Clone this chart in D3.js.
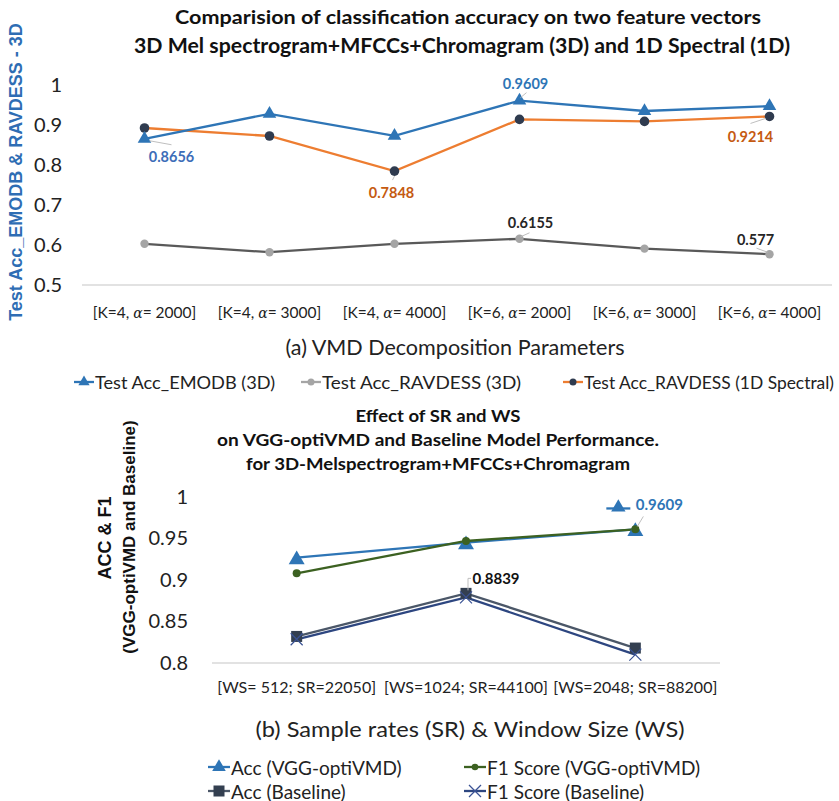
<!DOCTYPE html>
<html><head><meta charset="utf-8">
<script src="https://cdn.jsdelivr.net/npm/d3@7"></script>
<style>body{margin:0;background:#fff} text{font-family:Lato, "Open Sans", sans-serif}</style>
</head><body><svg id="c" width="839" height="801"></svg>
<script>
// ---------- DATA ----------
const catsA = [["K=4", "2000"], ["K=4", "3000"], ["K=4", "4000"], ["K=6", "2000"], ["K=6", "3000"], ["K=6", "4000"]];
const emodb3d = [0.8656, 0.928, 0.873, 0.9609, 0.935, 0.947];
const ravdess3d = [0.603, 0.582, 0.603, 0.6155, 0.591, 0.577];
const ravdess1d = [0.8925, 0.8725, 0.7848, 0.914, 0.909, 0.9214];
const ticksA = [0.5, 0.6, 0.7, 0.8, 0.9, 1];

const catsB = ["[WS= 512; SR=22050]", "[WS=1024; SR=44100]", "[WS=2048; SR=88200]"];
const accVGG = [0.927, 0.945, 0.9609];
const f1VGG = [0.908, 0.947, 0.961];
const accBase = [0.832, 0.8839, 0.818];
const f1Base = [0.8286, 0.879, 0.810];
const ticksB = [0.8, 0.85, 0.9, 0.95, 1];

const svg = d3.select("#c");
const fmt = v => (v === 1 ? "1" : String(+v.toFixed(2)));

// ---------- TOP CHART ----------
const xA = d3.scaleBand().domain(d3.range(catsA.length)).range([82, 832]);
const yA = d3.scaleLinear().domain([0.5, 1]).range([285, 85]);
const cxA = i => xA(i) + xA.bandwidth() / 2;

svg.append("text").attr("x", 468).attr("y", 24).attr("text-anchor", "middle")
  .attr("font-size", 19.5).attr("font-weight", "bold").attr("fill", "#111")
  .attr("textLength", 586).attr("lengthAdjust", "spacingAndGlyphs")
  .text("Comparision of classification accuracy on two feature vectors");
svg.append("text").attr("x", 462).attr("y", 53).attr("text-anchor", "middle")
  .attr("font-size", 20).attr("font-weight", "bold").attr("fill", "#111")
  .attr("textLength", 656).attr("lengthAdjust", "spacingAndGlyphs")
  .text("3D Mel spectrogram+MFCCs+Chromagram (3D) and 1D Spectral (1D)");

svg.append("text").attr("transform", "translate(22,172) rotate(-90)").attr("text-anchor", "middle")
  .style("font-family", "'Liberation Sans', Arial, sans-serif")
  .attr("font-size", 18).attr("font-weight", "bold").attr("fill", "#2E6DB4")
  .text("Test Acc_EMODB & RAVDESS - 3D");

const gA = svg.append("g");
gA.append("line").attr("x1", 82).attr("x2", 832).attr("y1", yA(0.5)).attr("y2", yA(0.5))
  .attr("stroke", "#D9D9D9").attr("stroke-width", 1.3);
const yAxisA = d3.axisLeft(yA).tickValues(ticksA).tickFormat(fmt).tickSize(0).tickPadding(0);
gA.append("g").attr("transform", "translate(62,0)").call(yAxisA)
  .call(g => g.select(".domain").remove())
  .selectAll("text").attr("font-size", 20).attr("fill", "#222").style("font-family", "Lato");

const xlabA = gA.selectAll(".xl").data(catsA).enter().append("text")
  .attr("x", (d, i) => cxA(i)).attr("y", 318).attr("text-anchor", "middle")
  .attr("font-size", 15.5).attr("fill", "#222");
xlabA.append("tspan").text(d => "[" + d[0] + ", ");
xlabA.append("tspan").attr("font-style", "italic").style("font-family", "'DejaVu Serif', serif").attr("font-size", 14).text("\u03B1");
xlabA.append("tspan").text(d => "= " + d[1] + "]");

svg.append("text").attr("x", 455).attr("y", 355).attr("text-anchor", "middle")
  .attr("font-size", 21).attr("fill", "#222")
  .attr("textLength", 339).attr("lengthAdjust", "spacingAndGlyphs")
  .text("(a) VMD Decomposition Parameters");

const lineA = d3.line().x((d, i) => cxA(i)).y(d => yA(d));
const tri = d3.symbol().type(d3.symbolTriangle);

gA.append("path").datum(ravdess3d).attr("d", lineA).attr("fill", "none").attr("stroke", "#595959").attr("stroke-width", 2.3);
gA.append("path").datum(ravdess1d).attr("d", lineA).attr("fill", "none").attr("stroke", "#ED7D31").attr("stroke-width", 2.3);
gA.append("path").datum(emodb3d).attr("d", lineA).attr("fill", "none").attr("stroke", "#2E75B6").attr("stroke-width", 2.3);

gA.selectAll(".m2").data(ravdess3d).enter().append("circle")
  .attr("cx", (d, i) => cxA(i)).attr("cy", d => yA(d)).attr("r", 4.2).attr("fill", "#A5A5A5");
gA.selectAll(".m3").data(ravdess1d).enter().append("circle")
  .attr("cx", (d, i) => cxA(i)).attr("cy", d => yA(d)).attr("r", 4.8).attr("fill", "#2F3B4F");
gA.selectAll(".m1").data(emodb3d).enter().append("path")
  .attr("d", tri.size(80)).attr("transform", (d, i) => `translate(${cxA(i)},${yA(d)})`).attr("fill", "#2E75B6");

// data labels (top)
function leader(g, x1, y1, x2, y2) {
  g.append("line").attr("x1", x1).attr("y1", y1).attr("x2", x2).attr("y2", y2)
    .attr("stroke", "#BFBFBF").attr("stroke-width", 1);
}
function dlabel(g, x, y, txt, col, size) {
  g.append("text").attr("x", x).attr("y", y).attr("text-anchor", "middle").attr("dominant-baseline", "central")
    .attr("font-size", size || 14.5).attr("font-weight", "bold").attr("fill", col).text(txt);
}
{
  const x0 = cxA(0), y0 = yA(emodb3d[0]);
  leader(gA, x0 + 5, y0 + 2, x0 + 27, y0 + 6);
  dlabel(gA, x0 + 27, y0 + 18, emodb3d[0].toFixed(4), "#3D6DB8");
  const x2 = cxA(2), y2 = yA(ravdess1d[2]);
  leader(gA, x2, y2 + 5, x2 - 2, y2 + 9);
  dlabel(gA, x2 - 3, y2 + 21, ravdess1d[2].toFixed(4), "#C55A11");
  const x3 = cxA(3), y3 = yA(emodb3d[3]);
  leader(gA, x3 + 1, y3 - 3, x3 + 7, y3 - 8);
  dlabel(gA, x3 + 6, y3 - 17, emodb3d[3].toFixed(4), "#2E75B6");
  const y3b = yA(ravdess3d[3]);
  leader(gA, x3 + 1, y3b - 2, x3 + 10, y3b - 6);
  dlabel(gA, x3 + 11, y3b - 16, ravdess3d[3].toFixed(4), "#262626");
  const x5 = cxA(5), y5 = yA(ravdess3d[5]);
  leader(gA, x5 - 2, y5 - 2, x5 - 13, y5 - 6);
  dlabel(gA, x5 - 14, y5 - 15, String(ravdess3d[5]), "#262626");
  const y5b = yA(ravdess1d[5]);
  leader(gA, x5 - 4, y5b + 2, x5 - 19, y5b + 7);
  dlabel(gA, x5 - 19, y5b + 20, ravdess1d[5].toFixed(4), "#C55A11");
}

// legend top
const legA = [
  {t: "Test Acc_EMODB (3D)", line: "#2E75B6", m: "tri", mc: "#2E75B6", x: 74, w: 180},
  {t: "Test Acc_RAVDESS (3D)", line: "#A5A5A5", m: "dot", mc: "#A5A5A5", x: 301, w: 199},
  {t: "Test Acc_RAVDESS (1D Spectral)", line: "#ED7D31", m: "dot", mc: "#2F3B4F", x: 563, w: 250}
];
const lgA = svg.selectAll(".lgA").data(legA).enter().append("g").attr("transform", d => `translate(${d.x},382)`);
lgA.append("line").attr("x1", 0).attr("x2", 20).attr("stroke", d => d.line).attr("stroke-width", 2.3);
lgA.filter(d => d.m === "tri").append("path").attr("d", tri.size(55)).attr("transform", "translate(10,0)").attr("fill", d => d.mc);
lgA.filter(d => d.m === "dot").append("circle").attr("cx", 10).attr("r", 3.5).attr("fill", d => d.mc);
lgA.append("text").attr("x", 21).attr("dominant-baseline", "central").attr("font-size", 17.5).attr("fill", "#222")
  .attr("textLength", d => d.w).attr("lengthAdjust", "spacingAndGlyphs").text(d => d.t);

// ---------- BOTTOM CHART ----------
const xB = d3.scaleBand().domain(d3.range(catsB.length)).range([212, 720]);
const yB = d3.scaleLinear().domain([0.8, 1]).range([663, 497]);
const cxB = i => xB(i) + xB.bandwidth() / 2;

const tB = ["Effect of SR and WS", "on VGG-optiVMD and Baseline Model Performance.", "for 3D-Melspectrogram+MFCCs+Chromagram"];
const tBw = [165, 442, 384];
svg.selectAll(".tB").data(tB).enter().append("text")
  .attr("x", 438).attr("y", (d, i) => 422 + i * 24).attr("text-anchor", "middle")
  .attr("font-size", 17.5).attr("font-weight", "bold").attr("fill", "#111")
  .attr("textLength", (d, i) => tBw[i]).attr("lengthAdjust", "spacingAndGlyphs").text(d => d);

svg.append("text").attr("transform", "translate(111,538) rotate(-90)").attr("text-anchor", "middle")
  .style("font-family", "'Liberation Sans', Arial, sans-serif")
  .attr("font-size", 18).attr("font-weight", "bold").attr("fill", "#111").text("ACC & F1");
svg.append("text").attr("transform", "translate(135,537) rotate(-90)").attr("text-anchor", "middle")
  .style("font-family", "'Liberation Sans', Arial, sans-serif")
  .attr("font-size", 17).attr("font-weight", "bold").attr("fill", "#111").text("(VGG-optiVMD and Baseline)");

const gB = svg.append("g");
gB.append("line").attr("x1", 212).attr("x2", 720).attr("y1", yB(0.8)).attr("y2", yB(0.8))
  .attr("stroke", "#D9D9D9").attr("stroke-width", 1.3);
gB.append("g").attr("transform", "translate(188,0)")
  .call(d3.axisLeft(yB).tickValues(ticksB).tickFormat(fmt).tickSize(0).tickPadding(0))
  .call(g => g.select(".domain").remove())
  .selectAll("text").attr("font-size", 20).attr("fill", "#222").style("font-family", "Lato");

gB.selectAll(".xlB").data(catsB).enter().append("text")
  .attr("x", (d, i) => cxB(i)).attr("y", 693).attr("text-anchor", "middle")
  .attr("font-size", 16).attr("fill", "#222").text(d => d);

svg.append("text").attr("x", 470).attr("y", 737).attr("text-anchor", "middle")
  .attr("font-size", 21).attr("fill", "#222")
  .attr("textLength", 429).attr("lengthAdjust", "spacingAndGlyphs")
  .text("(b)  Sample rates (SR) & Window Size (WS)");

const lineB = d3.line().x((d, i) => cxB(i)).y(d => yB(d));
gB.append("path").datum(accBase).attr("d", lineB).attr("fill", "none").attr("stroke", "#4B5768").attr("stroke-width", 2.3);
gB.append("path").datum(f1Base).attr("d", lineB).attr("fill", "none").attr("stroke", "#2D4680").attr("stroke-width", 2.3);
gB.append("path").datum(accVGG).attr("d", lineB).attr("fill", "none").attr("stroke", "#2E75B6").attr("stroke-width", 2.3);
gB.append("path").datum(f1VGG).attr("d", lineB).attr("fill", "none").attr("stroke", "#3C6121").attr("stroke-width", 2.3);

gB.selectAll(".mB1").data(accVGG).enter().append("path")
  .attr("d", tri.size(110)).attr("transform", (d, i) => `translate(${cxB(i)},${yB(d) + 2})`).attr("fill", "#2E75B6");
gB.selectAll(".mB3").data(accBase).enter().append("rect")
  .attr("x", (d, i) => cxB(i) - 5.5).attr("y", d => yB(d) - 5.5).attr("width", 11).attr("height", 11).attr("fill", "#333F50");
gB.selectAll(".mB4").data(f1Base).enter().append("path")
  .attr("d", (d, i) => { const x = cxB(i), y = yB(d), r = 6; return `M${x - r},${y - r}L${x + r},${y + r}M${x - r},${y + r}L${x + r},${y - r}`; })
  .attr("stroke", "#3A5294").attr("stroke-width", 1.2).attr("fill", "none");
gB.selectAll(".mB2").data(f1VGG).enter().append("circle")
  .attr("cx", (d, i) => cxB(i)).attr("cy", d => yB(d)).attr("r", 4).attr("fill", "#3C6121");

{
  // 0.8839 label
  const x1 = cxB(1), y1 = yB(accBase[1]);
  gB.append("path").attr("d", `M${x1 + 2},${y1 - 3}V${y1 - 15}H${x1 + 5}`).attr("stroke", "#BFBFBF").attr("fill", "none").attr("stroke-width", 1);
  dlabel(gB, x1 + 30, y1 - 15, accBase[1].toFixed(4), "#111", 15);
  // 0.9609 label with legend key
  const x2 = cxB(2), y2 = yB(accVGG[2]);
  leader(gB, x2 + 2, y2 - 3, x2 + 8, y2 - 13);
  dlabel(gB, x2 + 24, y2 - 25, accVGG[2].toFixed(4), "#2E75B6", 15);
  gB.append("line").attr("x1", x2 - 29).attr("x2", x2 - 5).attr("y1", y2 - 21).attr("y2", y2 - 21).attr("stroke", "#2E75B6").attr("stroke-width", 2.3);
  gB.append("path").attr("d", tri.size(90)).attr("transform", `translate(${x2 - 17},${y2 - 22})`).attr("fill", "#2E75B6");
}

// legend bottom
const legB = [
  {t: "Acc (VGG-optiVMD)", line: "#2E75B6", m: "tri", mc: "#2E75B6", x: 208, y: 767},
  {t: "F1 Score (VGG-optiVMD)", line: "#3C6121", m: "dot", mc: "#3C6121", x: 464, y: 767},
  {t: "Acc (Baseline)", line: "#4B5768", m: "sq", mc: "#333F50", x: 208, y: 791},
  {t: "F1 Score (Baseline)", line: "#2D4680", m: "x", mc: "#3A5294", x: 464, y: 791}
];
const lgB = svg.selectAll(".lgB").data(legB).enter().append("g").attr("transform", d => `translate(${d.x},${d.y})`);
lgB.append("line").attr("x1", 0).attr("x2", 22).attr("stroke", d => d.line).attr("stroke-width", 2.3);
lgB.filter(d => d.m === "tri").append("path").attr("d", tri.size(80)).attr("transform", "translate(11,0)").attr("fill", d => d.mc);
lgB.filter(d => d.m === "dot").append("circle").attr("cx", 11).attr("r", 3.3).attr("fill", d => d.mc);
lgB.filter(d => d.m === "sq").append("rect").attr("x", 5.5).attr("y", -5.5).attr("width", 11).attr("height", 11).attr("fill", d => d.mc);
lgB.filter(d => d.m === "x").append("path").attr("d", "M5,-6L17,6M5,6L17,-6").attr("stroke", d => d.mc).attr("stroke-width", 1.3);
lgB.append("text").attr("x", 23).attr("dominant-baseline", "central").attr("font-size", 19).attr("fill", "#222").text(d => d.t);
</script></body></html>
